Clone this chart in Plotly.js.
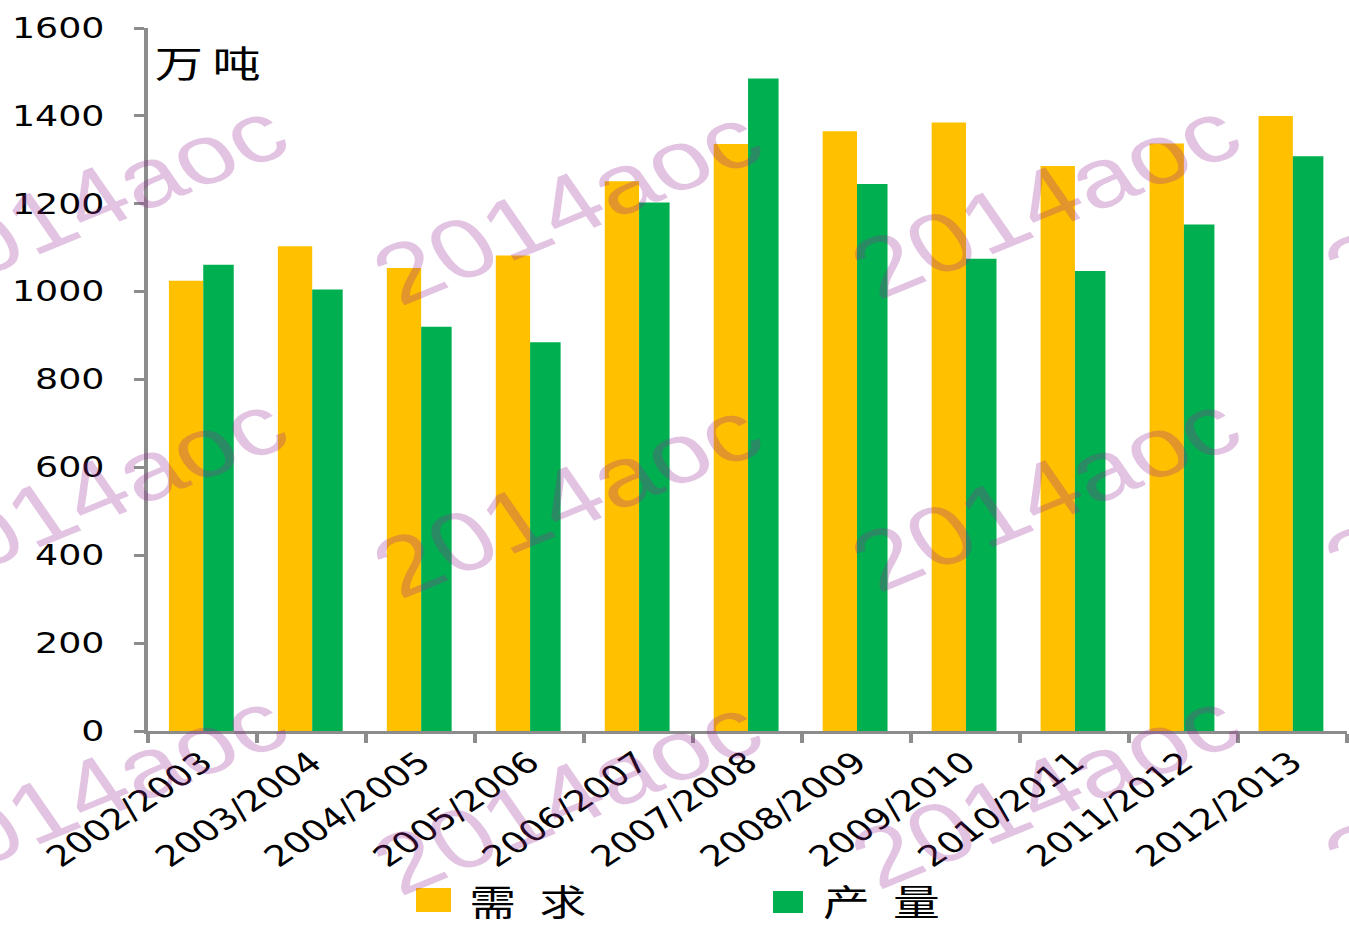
<!DOCTYPE html>
<html>
<head>
<meta charset="utf-8">
<script src="https://cdn.plot.ly/plotly-3.0.1.min.js"></script>
<style>
html,body{margin:0;padding:0;background:#fff;overflow:hidden;}
#wrap{width:1038px;height:926px;transform:scaleX(1.3);transform-origin:0 0;}
</style>
</head>
<body>
<div id="wrap"><div id="chart" style="width:1038px;height:926px;"></div></div>
<script>
// ---- data ----
const categories = ["2002/2003","2003/2004","2004/2005","2005/2006","2006/2007","2007/2008","2008/2009","2009/2010","2010/2011","2011/2012","2012/2013"];
const demand     = [1025, 1103, 1054, 1082, 1251, 1336, 1365, 1385, 1286, 1337, 1400];
const production = [1061, 1005,  920,  885, 1203, 1485, 1245, 1075, 1047, 1153, 1308];
const seriesNames = ["需\u2002求", "产\u2002量"];
const unitLabel = "万\u2009吨";
const yTicks = [0, 200, 400, 600, 800, 1000, 1200, 1400, 1600];
const watermarkText = "2014aoc";

// ---- geometry helpers (unscaled px -> paper) ----
const W = 1038, H = 926, ML = 114, MR = 2, MT = 28, MB = 195;
const S = 1.3;                       // horizontal stretch applied by CSS
const PW = W - ML - MR, PH = H - MT - MB;
const px = xf => (xf / S - ML) / PW;           // final-image x -> paper
const py = yf => (H - MB - yf) / PH;           // final-image y -> paper

const YELLOW = "#FFC000", GREEN = "#00B050";

const traces = [
  {type:"bar", x:categories, y:demand, name:seriesNames[0],
   marker:{color:YELLOW}, offset:-0.31, width:0.315, showlegend:false},
  {type:"bar", x:categories, y:production, name:seriesNames[1],
   marker:{color:GREEN}, offset:0.005, width:0.28, showlegend:false}
];

const annotations = [];
// unit label
annotations.push({xref:"paper", yref:"paper", x:px(152), y:py(62), xanchor:"left", yanchor:"middle",
  text:unitLabel, showarrow:false, font:{family:"Noto Sans CJK SC", size:37, color:"#000"}});
// legend texts
annotations.push({xref:"paper", yref:"paper", x:px(467), y:py(900), xanchor:"left", yanchor:"middle",
  text:seriesNames[0], showarrow:false, font:{family:"Noto Sans CJK SC", size:36, color:"#000"}});
annotations.push({xref:"paper", yref:"paper", x:px(820), y:py(900), xanchor:"left", yanchor:"middle",
  text:seriesNames[1], showarrow:false, font:{family:"Noto Sans CJK SC", size:36, color:"#000"}});

// watermarks
const wmCols = [92, 567, 1045, 1518];
const wmRows = [200, 493, 790];
wmCols.forEach((cx, ci) => {
  wmRows.forEach(cy => {
    annotations.push({xref:"paper", yref:"paper", x:px(cx), y:py(cy + (ci===1?6:0)),
      xanchor:"center", yanchor:"middle", text:watermarkText, showarrow:false, textangle:-28,
      font:{family:"Liberation Sans, Arial, sans-serif", size:84, color:"rgba(150,40,150,0.28)"}});
  });
});

const shapes = [
  {type:"rect", xref:"paper", yref:"paper", x0:px(416), x1:px(451), y0:py(912), y1:py(888),
   fillcolor:YELLOW, line:{width:0}},
  {type:"rect", xref:"paper", yref:"paper", x0:px(773), x1:px(803), y0:py(913), y1:py(891),
   fillcolor:GREEN, line:{width:0}}
];

const layout = {
  width:W, height:H,
  margin:{l:ML, r:MR, t:MT, b:MB, pad:0},
  paper_bgcolor:"#fff", plot_bgcolor:"#fff",
  showlegend:false,
  barmode:"group",
  font:{family:"DejaVu Sans", color:"#000"},
  xaxis:{type:"category", showline:true, linecolor:"#8c8c8c", linewidth:3,
    ticks:"outside", tickson:"boundaries", ticklen:9, tickwidth:3, tickcolor:"#8c8c8c",
    tickangle:-41, tickfont:{family:"DejaVu Sans", size:29, color:"#000"},
    showgrid:false, zeroline:false, fixedrange:true},
  yaxis:{range:[0,1600], tickvals:yTicks, ticktext:yTicks.map(String),
    showline:true, linecolor:"#8c8c8c", linewidth:3,
    ticks:"outside", ticklen:8, tickwidth:3, tickcolor:"#8c8c8c",
    ticklabelstandoff:17,
    tickfont:{family:"DejaVu Sans", size:28, color:"#000"},
    showgrid:false, zeroline:false, fixedrange:true},
  annotations:annotations,
  shapes:shapes
};

Plotly.newPlot("chart", traces, layout, {displayModeBar:false, staticPlot:true});
</script>
</body>
</html>
